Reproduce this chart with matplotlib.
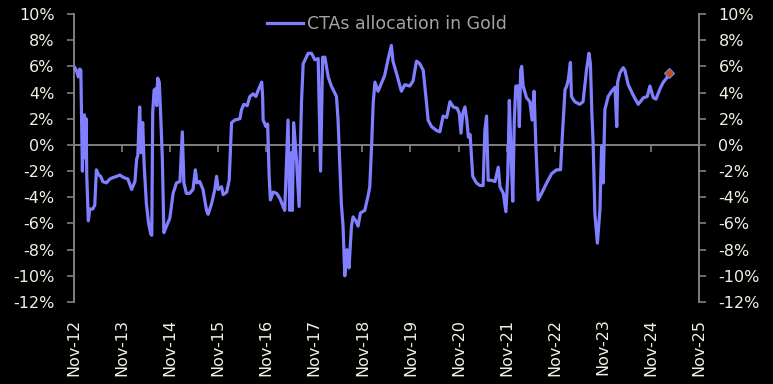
from datetime import datetime

import matplotlib
matplotlib.use("Agg")
import matplotlib.pyplot as plt
import matplotlib.dates as mdates
import pandas as pd


# CTAs allocation in gold (%)
DATES = [
    "2012-11-08", "2012-11-23", "2012-12-04", "2012-12-15", "2012-12-23",
    "2013-01-04", "2013-01-11", "2013-01-19", "2013-01-27", "2013-02-01",
    "2013-02-06", "2013-02-18", "2013-03-01", "2013-03-23", "2013-04-08",
    "2013-04-20", "2013-05-08", "2013-05-23", "2013-06-08", "2013-07-05",
    "2013-08-01", "2013-08-23", "2013-09-22", "2013-10-15", "2013-11-15",
    "2013-12-15", "2014-01-13", "2014-02-07", "2014-02-20", "2014-03-01",
    "2014-03-15", "2014-03-26", "2014-04-07", "2014-04-18", "2014-05-05",
    "2014-05-22", "2014-06-07", "2014-06-15", "2014-06-22", "2014-07-03",
    "2014-07-15", "2014-07-22", "2014-07-30", "2014-08-11", "2014-08-22",
    "2014-09-03", "2014-09-15", "2014-10-05", "2014-10-30", "2014-11-24",
    "2014-12-20", "2015-01-15", "2015-02-02", "2015-02-14", "2015-03-05",
    "2015-03-30", "2015-04-24", "2015-05-12", "2015-05-24", "2015-06-14",
    "2015-07-09", "2015-08-05", "2015-08-17", "2015-09-12", "2015-10-07",
    "2015-10-20", "2015-11-02", "2015-11-27", "2015-12-09", "2016-01-05",
    "2016-01-24", "2016-02-11", "2016-03-07", "2016-04-14", "2016-04-27",
    "2016-05-14", "2016-06-09", "2016-06-29", "2016-07-24", "2016-08-14",
    "2016-09-01", "2016-09-27", "2016-10-04", "2016-10-08", "2016-10-29",
    "2016-11-11", "2016-11-23", "2016-12-02", "2016-12-23", "2017-01-19",
    "2017-02-13", "2017-03-08", "2017-03-21", "2017-04-15", "2017-04-28",
    "2017-05-11", "2017-05-18", "2017-05-28", "2017-06-18", "2017-07-08",
    "2017-07-26", "2017-08-08", "2017-09-15", "2017-10-10", "2017-11-05",
    "2017-11-30", "2017-12-18", "2018-01-03", "2018-01-20", "2018-02-14",
    "2018-03-10", "2018-04-18", "2018-04-30", "2018-05-12", "2018-05-25",
    "2018-06-07", "2018-06-20", "2018-07-07", "2018-07-22", "2018-08-10",
    "2018-08-22", "2018-09-12", "2018-09-29", "2018-10-17", "2018-11-19",
    "2018-12-14", "2018-12-27", "2019-01-10", "2019-01-22", "2019-02-04",
    "2019-02-28", "2019-03-25", "2019-04-19", "2019-05-14", "2019-06-09",
    "2019-06-21", "2019-07-17", "2019-08-24", "2019-09-19", "2019-10-27",
    "2019-11-21", "2019-12-17", "2020-01-11", "2020-02-06", "2020-03-02",
    "2020-03-14", "2020-04-09", "2020-05-17", "2020-06-11", "2020-07-06",
    "2020-08-02", "2020-08-27", "2020-09-21", "2020-10-21", "2020-11-06",
    "2020-11-19", "2020-12-02", "2020-12-19", "2021-01-02", "2021-01-14",
    "2021-01-27", "2021-02-16", "2021-03-16", "2021-04-11", "2021-05-06",
    "2021-05-19", "2021-06-01", "2021-06-13", "2021-07-09", "2021-08-04",
    "2021-08-29", "2021-09-11", "2021-10-06", "2021-10-26", "2021-11-09",
    "2021-11-21", "2021-12-04", "2021-12-17", "2021-12-29", "2022-01-09",
    "2022-01-28", "2022-02-05", "2022-02-15", "2022-02-23", "2022-03-06",
    "2022-04-01", "2022-04-26", "2022-05-13", "2022-05-28", "2022-06-10",
    "2022-06-28", "2022-07-24", "2022-09-01", "2022-10-08", "2022-11-15",
    "2022-12-15", "2022-12-31", "2023-01-18", "2023-01-31", "2023-02-12",
    "2023-02-28", "2023-03-08", "2023-04-02", "2023-05-10", "2023-06-04",
    "2023-06-30", "2023-07-19", "2023-07-30", "2023-08-10", "2023-08-20",
    "2023-09-02", "2023-09-21", "2023-10-10", "2023-10-23", "2023-11-04",
    "2023-11-17", "2023-12-12", "2024-01-07", "2024-02-02", "2024-02-15",
    "2024-02-22", "2024-03-10", "2024-04-04", "2024-04-17", "2024-05-12",
    "2024-06-19", "2024-07-27", "2024-09-04", "2024-10-04", "2024-10-24",
    "2024-11-19", "2024-12-09", "2025-01-09", "2025-02-03", "2025-02-28",
    "2025-03-19",
]

ALLOCATION = [
    5.9, 5.6, 5.2, 5.8, 5.7,
    -2.0, 1.0, 2.3, -1.0, 2.0,
    -2.3, -5.8, -4.9, -4.9, -4.6,
    -1.9, -2.3, -2.4, -2.8, -2.9,
    -2.6, -2.5, -2.4, -2.3, -2.5,
    -2.6, -3.4, -2.8, -1.1, -0.8,
    2.9, -0.6, 1.7, -1.5, -4.5,
    -6.0, -6.8, -6.9, 2.5, 4.2,
    4.3, 3.0, 5.1, 4.8, 2.2,
    -1.0, -6.7, -6.2, -5.6, -3.7,
    -2.9, -2.8, 1.0, -2.9, -3.7,
    -3.7, -3.4, -1.9, -2.9, -2.8,
    -3.4, -5.0, -5.3, -4.5, -3.4,
    -2.4, -3.4, -3.2, -3.8, -3.6,
    -2.7, 1.7, 1.9, 2.0, 2.7,
    3.1, 3.0, 3.7, 3.9, 3.7,
    4.2, 4.8, 3.7, 1.9, 1.4,
    1.6, -2.5, -4.2, -3.6, -3.7,
    -4.1, -4.7, -5.0, 1.9, -5.0,
    -0.6, -5.0, 1.7, -1.1, -4.7,
    3.2, 6.2, 7.0, 7.0, 6.5,
    6.6, -2.0, 6.7, 6.7, 5.2,
    4.5, 3.7, 1.9, -1.1, -4.5,
    -6.2, -10.0, -8.0, -9.4, -6.2,
    -5.5, -5.8, -6.2, -5.2, -5.0,
    -3.9, -3.2, 0.0, 3.2, 4.8,
    4.1, 4.7, 5.3, 6.5, 7.6,
    6.4, 5.5, 4.1, 4.6, 4.5,
    4.9, 6.4, 6.2, 5.7, 3.2,
    1.9, 1.4, 1.1, 1.0, 2.2,
    2.1, 3.3, 2.9, 2.8, 2.4,
    0.9, 2.4, 2.9, 1.9, 0.6,
    0.8, -2.4, -2.9, -3.1, -3.1,
    1.1, 2.2, -2.7, -2.7, -2.8,
    -1.7, -3.2, -3.7, -5.1, -2.4,
    3.4, -0.6, -4.3, 1.9, 4.5,
    4.5, 1.4, 5.7, 6.0, 4.5,
    3.6, 3.3, 1.9, 4.1, 0.1,
    -4.2, -3.7, -2.9, -2.2, -1.9,
    -1.9, 1.1, 4.2, 4.5, 5.0,
    6.3, 3.7, 3.3, 3.1, 3.3,
    5.7, 7.0, 6.2, 2.4, 0.0,
    -5.3, -7.5, -5.0, -0.1, -2.9,
    2.7, 3.7, 4.1, 4.4, 1.4,
    4.8, 5.5, 5.9, 5.7, 4.6,
    3.8, 3.1, 3.6, 3.7, 4.5,
    3.6, 3.5, 4.3, 4.8, 5.1,
    5.5,
]

SERIES_LABEL = "CTAs allocation in Gold"
Y_TICKS = list(range(-12, 11, 2))
TICK_YEARS = list(range(2012, 2026))

LINE_COLOR = "#7f7fff"
TEXT_COLOR = "#f4efe4"
AXIS_COLOR = "#808080"


def main():
    dates = pd.to_datetime(DATES)

    fig = plt.figure(figsize=(7.73, 3.84), dpi=100, facecolor="black")
    ax = fig.add_axes([0.0957, 0.2135, 0.8086, 0.75])
    ax.set_facecolor("black")

    ax.plot(dates, ALLOCATION, color=LINE_COLOR, linewidth=2.3, label=SERIES_LABEL,
            solid_joinstyle="round", zorder=3)
    ax.plot(dates[-1:], ALLOCATION[-1:], linestyle="none", marker="D", markersize=5.5,
            markerfacecolor="#c0500a", markeredgecolor=LINE_COLOR, markeredgewidth=0.8, zorder=4)

    ax.set_ylim(-12, 10)
    ax.set_xlim(datetime(2012, 11, 1), datetime(2025, 11, 1))

    ax.set_yticks(Y_TICKS)
    ax.set_yticklabels([f"{v}%" for v in Y_TICKS])
    ax.tick_params(axis="y", which="both", left=True, right=True,
                   labelleft=True, labelright=True, direction="out",
                   length=5, width=1.2, color=AXIS_COLOR, labelcolor=TEXT_COLOR,
                   labelsize=11.5, pad=9)

    ax.set_xticks([datetime(y, 11, 1) for y in TICK_YEARS])
    ax.xaxis.set_major_formatter(mdates.DateFormatter("%b-%y"))
    ax.tick_params(axis="x", direction="out", length=5, width=1.2,
                   color=AXIS_COLOR, labelcolor=TEXT_COLOR, labelsize=11.5,
                   labelrotation=90, pad=120)

    for side in ["left", "right"]:
        ax.spines[side].set_color(AXIS_COLOR)
        ax.spines[side].set_linewidth(1.4)
    ax.spines["top"].set_visible(False)
    ax.spines["bottom"].set_position(("data", 0))
    ax.spines["bottom"].set_color(AXIS_COLOR)
    ax.spines["bottom"].set_linewidth(1.4)

    legend = ax.legend(loc="upper center", bbox_to_anchor=(0.5, 1.05), frameon=False,
                       fontsize=12.5, handlelength=2.1, handletextpad=0.2)
    for text in legend.get_texts():
        text.set_color("#a3a3a3")

    fig.savefig("out.png", dpi=100, facecolor="black")


if __name__ == "__main__":
    main()
